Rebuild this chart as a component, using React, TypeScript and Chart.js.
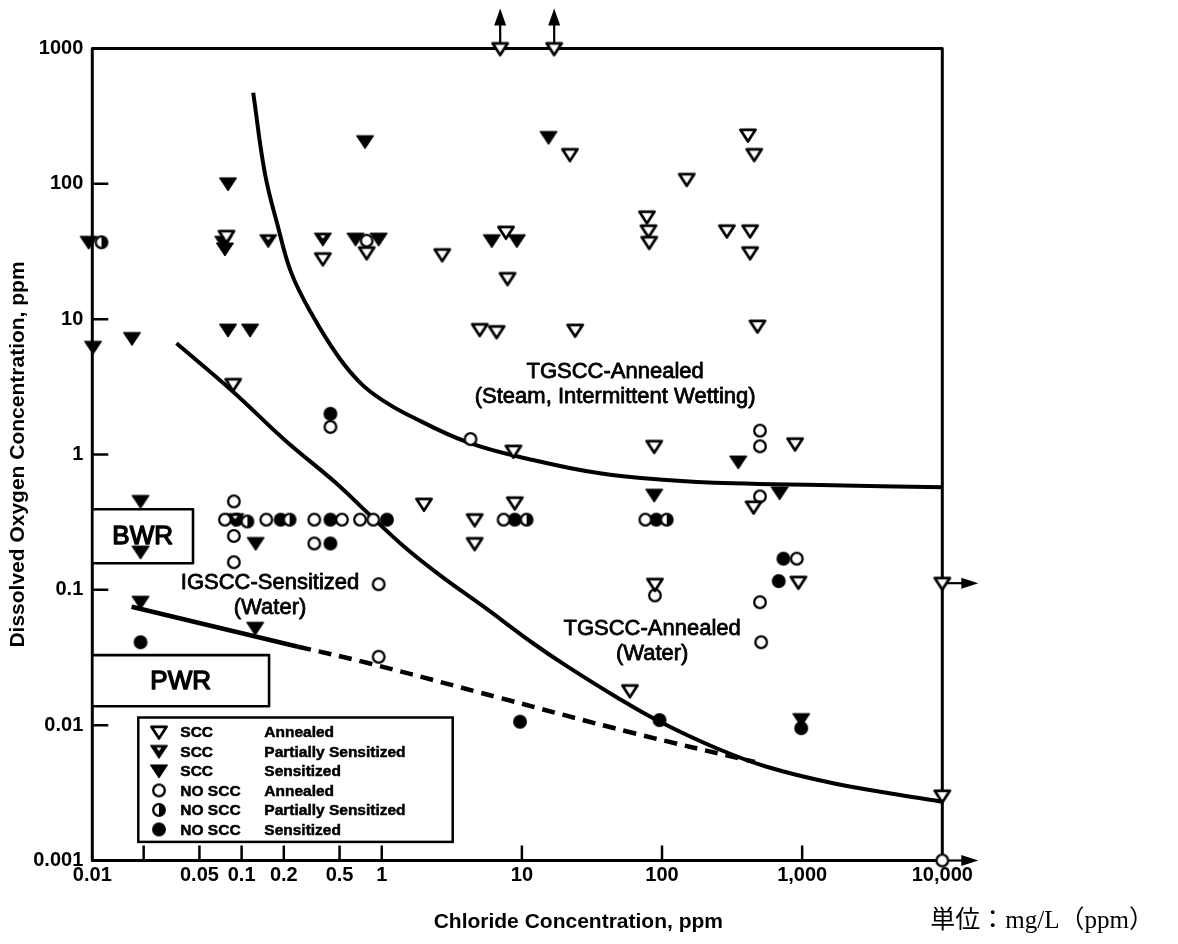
import { useEffect, useRef } from 'react';
import { Chart, registerables } from 'chart.js';

Chart.register(...registerables);

type Pt = [number, number];

// Chloride (ppm) vs dissolved oxygen (ppm) test results, grouped by outcome and heat treatment
const sccAnnealed: Pt[] = [
  [0.078, 41], [0.38, 28], [0.78, 31], [0.087, 3.3],
  [2.7, 30], [7.7, 44], [7.9, 20], [5, 8.4], [6.6, 8.1], [24, 8.3],
  [7, 1000], [17, 1000], [22, 165],
  [150, 108], [410, 230], [455, 165], [78, 57], [80, 45], [81, 37],
  [290, 45], [425, 45], [425, 31], [480, 8.9],
  [8.7, 1.06], [88, 1.15], [890, 1.2], [450, 0.41],
  [2.0, 0.43], [4.6, 0.33], [4.6, 0.22], [8.9, 0.44],
  [89, 0.11], [940, 0.114], [59, 0.018],
  [10000, 0.112], [10000, 0.003],
];
const sccPartial: Pt[] = [[0.155, 38], [0.38, 39], [0.09, 0.33]];
const sccSensitized: Pt[] = [
  [0.0081, 37], [0.0087, 6.2], [0.0165, 7.2],
  [0.08, 100], [0.074, 37], [0.076, 33], [0.08, 8.3], [0.115, 8.3],
  [0.76, 205], [0.65, 39], [0.95, 39],
  [15.5, 220], [6.1, 38], [9.2, 38],
  [0.019, 0.45], [0.019, 0.19], [0.126, 0.22], [0.019, 0.081], [0.125, 0.052],
  [350, 0.88], [690, 0.52], [88, 0.5], [985, 0.011],
];
const noSccAnnealed: Pt[] = [
  [0.78, 38], [0.43, 1.6],
  [0.088, 0.45], [0.076, 0.33], [0.088, 0.25], [0.088, 0.16],
  [0.15, 0.33], [0.33, 0.33], [0.52, 0.33], [0.33, 0.22], [0.7, 0.33], [0.87, 0.33],
  [0.95, 0.11], [0.95, 0.032],
  [4.3, 1.3], [7.4, 0.33], [76, 0.33], [89, 0.091],
  [500, 1.5], [500, 1.15], [500, 0.49], [915, 0.17], [500, 0.081], [510, 0.041],
  [10000, 0.001],
];
const noSccPartial: Pt[] = [[0.01, 37], [0.11, 0.32], [0.22, 0.33], [10.8, 0.33], [108, 0.33]];
const noSccSensitized: Pt[] = [
  [0.43, 2.0], [0.092, 0.33], [0.19, 0.33], [0.43, 0.33], [0.43, 0.22], [1.09, 0.33],
  [0.019, 0.041], [8.9, 0.33], [91, 0.33], [735, 0.17], [680, 0.116],
  [9.7, 0.0106], [96, 0.0109], [985, 0.0095],
];

// Boundary curves between cracking regimes
const tgsccSteamCurve: Pt[] = [
  [0.121, 471], [0.1465, 120], [0.182, 48], [0.227, 21.8], [0.315, 11], [0.489, 5.3],
  [0.718, 3.31], [1.05, 2.455], [1.46, 2.02], [4.03, 1.24], [12, 0.91], [36, 0.726],
  [108, 0.648], [322, 0.612], [1340, 0.595], [10000, 0.573],
];
const igsccCurve: Pt[] = [
  [0.0343, 6.63], [0.0869, 2.91], [0.203, 1.28], [0.463, 0.626], [0.822, 0.357],
  [1.46, 0.2065], [2.61, 0.128], [5.28, 0.0757], [12, 0.0403], [20.8, 0.0274],
  [47.4, 0.0161], [96.6, 0.0106], [245, 0.00675], [558, 0.00493], [1667, 0.00372],
  [4990, 0.00305], [10000, 0.00272],
];
const pwrLineSolid: Pt[] = [[0.0164, 0.075], [0.253, 0.038]];
const pwrLineDashed: Pt[] = [[0.253, 0.038], [0.796, 0.0288], [6.97, 0.0159], [62.3, 0.00875], [460, 0.00534]];

// Results beyond the plotted range
const arrowsUp: Pt[] = [[7, 1000], [17, 1000]];
const arrowsRight: Pt[] = [[10000, 0.112], [10000, 0.001]];

// Reactor water ranges (x from axis start to value, y range)
const bwrRange = { xEnd: 0.045, yLow: 0.157, yHigh: 0.394 };
const pwrRange = { xEnd: 0.157, yLow: 0.0138, yHigh: 0.0329 };

// The first decade of the chloride axis is drawn slightly stretched: its start carries the 0.01 label
const xAxisMin = 0.0086;
const xAxisMax = 10000;
const xTickValues = [xAxisMin, 0.02, 0.05, 0.1, 0.2, 0.5, 1, 10, 100, 1000, 10000];
const xTickLabels = ['0.01', '', '0.05', '0.1', '0.2', '0.5', '1', '10', '100', '1,000', '10,000'];
const yTickValues = [0.001, 0.01, 0.1, 1, 10, 100, 1000];
const yTickLabels = ['0.001', '0.01', '0.1', '1', '10', '100', '1000'];

const xTitle = 'Chloride Concentration, ppm';
const yTitle = 'Dissolved Oxygen Concentration, ppm';
const unitNote = '単位：mg/L（ppm）';

const legendOutcome = ['SCC', 'SCC', 'SCC', 'NO SCC', 'NO SCC', 'NO SCC'];
const legendCondition = ['Annealed', 'Partially Sensitized', 'Sensitized', 'Annealed', 'Partially Sensitized', 'Sensitized'];

const regionLabels = [
  { lines: ['TGSCC-Annealed', '(Steam, Intermittent Wetting)'], x: 46.3, y: 4.08 },
  { lines: ['IGSCC-Sensitized', '(Water)'], x: 0.1595, y: 0.1125 },
  { lines: ['TGSCC-Annealed', '(Water)'], x: 85, y: 0.0512 },
];

const SANS = '"Liberation Sans", Arial, Helvetica, sans-serif';

type MarkerKind = 'triOpen' | 'triHalf' | 'triFilled' | 'dotOpen' | 'dotHalf' | 'dotFilled';

function makeMarker(kind: MarkerKind): HTMLCanvasElement {
  const c = document.createElement('canvas');
  c.width = 24;
  c.height = 24;
  const g = c.getContext('2d')!;
  const cx = 12;
  const cy = 12;
  g.strokeStyle = '#000';
  g.fillStyle = '#000';
  g.lineJoin = 'round';
  if (kind === 'triOpen' || kind === 'triHalf' || kind === 'triFilled') {
    const open = kind === 'triOpen';
    const hw = open ? 7.6 : 8.6;
    const top = open ? cy - 5.2 : cy - 6;
    const bot = open ? cy + 6.6 : cy + 7;
    g.beginPath();
    g.moveTo(cx - hw, top);
    g.lineTo(cx + hw, top);
    g.lineTo(cx, bot);
    g.closePath();
    if (open) {
      g.fillStyle = '#fff';
      g.fill();
      g.lineWidth = 2.7;
      g.stroke();
    } else {
      g.fill();
      g.lineWidth = 1;
      g.stroke();
      if (kind === 'triHalf') {
        g.fillStyle = '#fff';
        g.beginPath();
        g.moveTo(cx - 2.6, top + 2.2);
        g.lineTo(cx + 2.6, top + 2.2);
        g.lineTo(cx, top + 5.6);
        g.closePath();
        g.fill();
      }
    }
  } else {
    const r = 5.8;
    g.lineWidth = 2.3;
    g.beginPath();
    g.arc(cx, cy, r, 0, Math.PI * 2);
    g.fillStyle = kind === 'dotFilled' ? '#000' : '#fff';
    g.fill();
    if (kind === 'dotHalf') {
      g.fillStyle = '#000';
      g.beginPath();
      g.arc(cx, cy, r, -Math.PI / 2, Math.PI / 2);
      g.closePath();
      g.fill();
    }
    g.beginPath();
    g.arc(cx, cy, r, 0, Math.PI * 2);
    g.stroke();
  }
  return c;
}

// text with a hairline outline, for the heavier print of the annotations
function inkText(ctx: CanvasRenderingContext2D, text: string, x: number, y: number, weight: number) {
  ctx.fillText(text, x, y);
  if (weight > 0) {
    ctx.lineWidth = weight;
    ctx.strokeText(text, x, y);
  }
}

const figurePlugin = {
  id: 'figureDecor',
  beforeDatasetsDraw(chart: any) {
    const { ctx, chartArea: a, scales } = chart;
    const xs = scales.x;
    const ys = scales.y;
    ctx.save();
    ctx.strokeStyle = '#000';
    ctx.fillStyle = '#000';
    ctx.lineJoin = 'round';

    // frame
    ctx.lineWidth = 3;
    ctx.strokeRect(a.left, a.top, a.right - a.left, a.bottom - a.top);

    // inward tick marks
    ctx.lineWidth = 2.5;
    ctx.beginPath();
    xs.ticks.forEach((t: any, i: number) => {
      if (i === 0 || i === xs.ticks.length - 1) return;
      const px = xs.getPixelForValue(t.value);
      ctx.moveTo(px, a.bottom);
      ctx.lineTo(px, a.bottom - 15);
    });
    ys.ticks.forEach((t: any, i: number) => {
      if (i === 0 || i === ys.ticks.length - 1) return;
      const py = ys.getPixelForValue(t.value);
      ctx.moveTo(a.left, py);
      ctx.lineTo(a.left + 16, py);
    });
    ctx.stroke();

    // BWR / PWR ranges
    const drawRange = (r: { xEnd: number; yLow: number; yHigh: number }, text: string) => {
      const x0 = a.left;
      const x1 = xs.getPixelForValue(r.xEnd);
      const y0 = ys.getPixelForValue(r.yHigh);
      const y1 = ys.getPixelForValue(r.yLow);
      ctx.fillStyle = '#fff';
      ctx.fillRect(x0, y0, x1 - x0, y1 - y0);
      ctx.lineWidth = 2.6;
      ctx.strokeRect(x0, y0, x1 - x0, y1 - y0);
      ctx.fillStyle = '#000';
      ctx.font = `26px ${SANS}`;
      ctx.textAlign = 'center';
      ctx.textBaseline = 'middle';
      inkText(ctx, text, (x0 + x1) / 2, (y0 + y1) / 2 + 1, 1.4);
    };
    drawRange(bwrRange, 'BWR');
    drawRange(pwrRange, 'PWR');

    // regime labels
    ctx.font = `22px ${SANS}`;
    ctx.textAlign = 'center';
    ctx.textBaseline = 'middle';
    regionLabels.forEach((lab) => {
      const px = xs.getPixelForValue(lab.x);
      const py = ys.getPixelForValue(lab.y);
      lab.lines.forEach((ln, i) => inkText(ctx, ln, px, py + i * 25, 0.8));
    });

    // arrows for off-range results
    ctx.lineWidth = 2.2;
    arrowsUp.forEach(([vx, vy]) => {
      const px = xs.getPixelForValue(vx);
      const py = ys.getPixelForValue(vy);
      ctx.beginPath();
      ctx.moveTo(px, py);
      ctx.lineTo(px, py - 24);
      ctx.stroke();
      ctx.beginPath();
      ctx.moveTo(px, py - 40);
      ctx.lineTo(px - 6, py - 23);
      ctx.lineTo(px + 6, py - 23);
      ctx.closePath();
      ctx.fill();
    });
    arrowsRight.forEach(([vx, vy]) => {
      const px = xs.getPixelForValue(vx);
      const py = ys.getPixelForValue(vy);
      ctx.beginPath();
      ctx.moveTo(px, py);
      ctx.lineTo(px + 21, py);
      ctx.stroke();
      ctx.beginPath();
      ctx.moveTo(px + 36, py);
      ctx.lineTo(px + 19, py - 5.5);
      ctx.lineTo(px + 19, py + 5.5);
      ctx.closePath();
      ctx.fill();
    });
    ctx.restore();
  },
  afterDatasetsDraw(chart: any) {
    const { ctx, chartArea: a } = chart;
    ctx.save();
    // legend box
    const bx = a.left + 46;
    const by = a.top + 669;
    const bw = 314.4;
    const bh = 124.4;
    ctx.fillStyle = '#fff';
    ctx.fillRect(bx, by, bw, bh);
    ctx.strokeStyle = '#000';
    ctx.lineWidth = 2.5;
    ctx.strokeRect(bx, by, bw, bh);
    ctx.fillStyle = '#000';
    ctx.font = `bold 15.5px ${SANS}`;
    ctx.textAlign = 'left';
    ctx.textBaseline = 'middle';
    legendOutcome.forEach((outcome, i) => {
      const ds = chart.data.datasets[i];
      const cy = by + 14.4 + i * 19.5;
      const img = ds.pointStyle as HTMLCanvasElement;
      ctx.drawImage(img, bx + 20.7 - img.width / 2, cy - img.height / 2);
      inkText(ctx, outcome, bx + 42, cy + 1, 0.5);
      inkText(ctx, legendCondition[i], bx + 126, cy + 1, 0.5);
    });

    // chloride axis title
    ctx.font = `bold 21px ${SANS}`;
    ctx.textAlign = 'center';
    ctx.fillText(xTitle, (a.left + a.right) / 2 + 61, a.bottom + 62);

    // unit note
    ctx.font = `25px "Liberation Serif", "Noto Sans CJK JP", serif`;
    ctx.textAlign = 'left';
    ctx.fillText(unitNote, a.right - 12, a.bottom + 61);
    ctx.restore();
  },
};

export default function App() {
  const ref = useRef<HTMLCanvasElement>(null);

  useEffect(() => {
    const canvas = ref.current;
    if (!canvas) return;

    const toXY = (pts: Pt[]) => pts.map(([x, y]) => ({ x, y }));
    const markerSet = (label: string, pts: Pt[], kind: MarkerKind, order: number) => ({
      label,
      data: toXY(pts),
      pointStyle: makeMarker(kind),
      pointRadius: 8,
      pointBorderWidth: 0,
      showLine: false,
      clip: false,
      order,
    });
    const curveSet = (label: string, pts: Pt[], width: number, dash: number[] = []) => ({
      label,
      data: toXY(pts),
      showLine: true,
      borderColor: '#000',
      borderWidth: width,
      borderDash: dash,
      borderCapStyle: 'butt',
      borderJoinStyle: 'round',
      pointRadius: 0,
      tension: 0.4,
      fill: false,
      order: 10,
    });

    const tickFont = { family: SANS, size: 20, weight: 'bold' as const, lineHeight: 1.2 };
    const titleFont = { family: SANS, size: 21, weight: 'bold' as const, lineHeight: 1.2 };

    const chart = new Chart(canvas, {
      type: 'scatter',
      data: {
        datasets: [
          markerSet(`${legendOutcome[0]} ${legendCondition[0]}`, sccAnnealed, 'triOpen', 0),
          markerSet(`${legendOutcome[1]} ${legendCondition[1]}`, sccPartial, 'triHalf', 2),
          markerSet(`${legendOutcome[2]} ${legendCondition[2]}`, sccSensitized, 'triFilled', 5),
          markerSet(`${legendOutcome[3]} ${legendCondition[3]}`, noSccAnnealed, 'dotOpen', 1),
          markerSet(`${legendOutcome[4]} ${legendCondition[4]}`, noSccPartial, 'dotHalf', 3),
          markerSet(`${legendOutcome[5]} ${legendCondition[5]}`, noSccSensitized, 'dotFilled', 4),
          curveSet('TGSCC-Annealed (steam) boundary', tgsccSteamCurve, 4),
          curveSet('IGSCC-Sensitized boundary', igsccCurve, 4),
          curveSet('PWR', pwrLineSolid, 4.5),
          curveSet('PWR extrapolated', pwrLineDashed, 4.5, [13, 8]),
        ] as any,
      },
      options: {
        responsive: false,
        devicePixelRatio: 1,
        animation: false,
        events: [],
        layout: { padding: { left: 0, top: 48.5, right: 235.7, bottom: 0 } },
        plugins: {
          legend: { display: false },
          tooltip: { enabled: false },
          title: { display: false },
        },
        scales: {
          x: {
            type: 'logarithmic',
            min: xAxisMin,
            max: xAxisMax,
            afterBuildTicks: (s: any) => {
              s.ticks = xTickValues.map((v) => ({ value: v }));
            },
            afterFit: (s: any) => {
              s.height = 83.5;
            },
            grid: { display: false, drawTicks: false },
            border: { display: false },
            ticks: {
              autoSkip: false,
              maxRotation: 0,
              minRotation: 0,
              padding: 3,
              color: '#000',
              font: tickFont,
              callback: (_v: any, i: number) => xTickLabels[i],
            },
            title: { display: false },
          },
          y: {
            type: 'logarithmic',
            min: 0.001,
            max: 1000,
            afterBuildTicks: (s: any) => {
              s.ticks = yTickValues.map((v) => ({ value: v }));
            },
            afterFit: (s: any) => {
              s.width = 92.3;
            },
            grid: { display: false, drawTicks: false },
            border: { display: false },
            ticks: {
              autoSkip: false,
              padding: 9,
              color: '#000',
              font: tickFont,
              callback: (_v: any, i: number) => yTickLabels[i],
            },
            title: {
              display: true,
              text: yTitle,
              color: '#000',
              font: titleFont,
              padding: { top: 5.4, bottom: 0 },
            },
          },
        },
      } as any,
      plugins: [figurePlugin],
    });

    return () => chart.destroy();
  }, []);

  return (
    <div style={{ position: 'absolute', left: 0, top: 0, width: 1178, height: 944, background: '#fff' }}>
      <canvas ref={ref} width={1178} height={944} style={{ display: 'block', width: 1178, height: 944 }} />
    </div>
  );
}
